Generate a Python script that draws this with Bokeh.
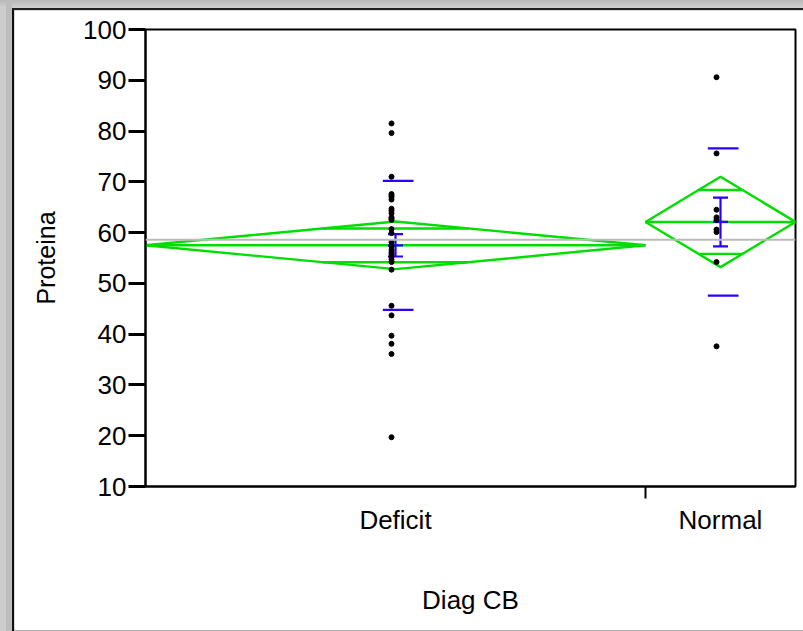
import math
from bokeh.plotting import figure
from bokeh.layouts import column
from bokeh.models import Range1d, FixedTicker, Span
from bokeh.embed import file_html
from bokeh.resources import INLINE

# ---------------- data ----------------
groups = ["Deficit", "Normal"]
deficit_values = [81.5, 79.6, 71.0, 67.6, 67.3, 67.0, 66.5, 64.7, 64.3, 63.8,
                  63.0, 62.8, 62.5, 60.7, 59.9, 58.1, 57.3, 56.6, 56.1, 55.7,
                  55.2, 54.7, 54.2, 52.7, 45.6, 43.7, 39.7, 38.1, 36.1, 19.7]
normal_values = [90.6, 75.6, 64.5, 63.0, 62.5, 60.6, 60.1, 54.2, 37.6]
group_values = [deficit_values, normal_values]

group_means = [57.5, 62.1]
group_ci95 = [4.7, 8.9]
group_sd = [12.7, 14.5]
group_se = [2.2, 4.8]
grand_mean = 58.6

y_ticks = [10, 20, 30, 40, 50, 60, 70, 80, 90, 100]

GREEN = "#00DD00"
BLUE = "#2A00FF"
FONT = "Liberation Sans"

# ---------------- geometry from counts ----------------
widths = [len(v) for v in group_values]
starts, ends, centers = [], [], []
acc = 0
for w in widths:
    starts.append(acc)
    ends.append(acc + w)
    centers.append(acc + w / 2)
    acc += w
total = acc

p = figure(width=789, height=620, output_backend="svg", toolbar_location=None,
           x_range=Range1d(0, total), y_range=Range1d(10, 100),
           min_border_left=131, min_border_right=8, min_border_top=19,
           min_border_bottom=144)
p.margin = (10, 0, 1, 14)
p.background_fill_color = "white"
p.border_fill_color = "white"
p.outline_line_color = "black"
p.outline_line_width = 2
p.xgrid.visible = False
p.ygrid.visible = False

# grand mean line
p.add_layout(Span(location=grand_mean, dimension="width", line_color="#BBBBBB", line_width=2))

# means diamonds
dx, dy = [], []
seg_x0, seg_x1, seg_y = [], [], []
k = 1 - 1 / math.sqrt(2)
for i in range(len(groups)):
    m, c = group_means[i], group_ci95[i]
    x0, x1, xc = starts[i], ends[i], centers[i]
    dx.append([x0, xc, x1, xc])
    dy.append([m, m + c, m, m - c])
    seg_x0.append(x0); seg_x1.append(x1); seg_y.append(m)
    half = k * (x1 - x0) / 2
    for s in (1, -1):
        seg_x0.append(xc - half); seg_x1.append(xc + half); seg_y.append(m + s * c / math.sqrt(2))
p.patches(dx, dy, fill_color=None, line_color=GREEN, line_width=2.4)
p.segment(seg_x0, seg_y, seg_x1, seg_y, line_color=GREEN, line_width=2.4)

# std dev lines and mean error bars
bx0, bx1, by0, by1 = [], [], [], []
for i in range(len(groups)):
    m, sd, se, xc = group_means[i], group_sd[i], group_se[i], centers[i]
    for s in (1, -1):
        bx0.append(xc + 0.16 - 0.92); bx1.append(xc + 0.16 + 0.92)
        by0.append(m + s * sd); by1.append(m + s * sd)
    for yv in (m + se, m, m - se):
        bx0.append(xc - 0.45); bx1.append(xc + 0.45)
        by0.append(yv); by1.append(yv)
    bx0.append(xc); bx1.append(xc); by0.append(m - se); by1.append(m + se)
p.segment(bx0, by0, bx1, by1, line_color=BLUE, line_width=2.2)

# points
px, py = [], []
for i, vals in enumerate(group_values):
    for v in vals:
        px.append(centers[i] - 0.24)
        py.append(v)
p.scatter(px, py, size=5, marker="circle", fill_color="black", line_color="black")

# axes
xa = p.xaxis[0]
xa.ticker = FixedTicker(ticks=centers, minor_ticks=[ends[0]])
xa.major_label_overrides = {c: g for c, g in zip(centers, groups)}
xa.major_tick_line_color = None
xa.major_tick_out = 0
xa.major_tick_in = 0
xa.minor_tick_out = 12
xa.minor_tick_in = 0
xa.minor_tick_line_width = 2
xa.minor_tick_line_color = "black"
xa.axis_line_width = 2
xa.major_label_standoff = 6
xa.major_label_text_font = FONT
xa.major_label_text_font_size = "26px"
xa.major_label_text_color = "black"
xa.axis_label = "Diag CB"
xa.axis_label_text_font = FONT
xa.axis_label_text_font_size = "26px"
xa.axis_label_text_font_style = "normal"
xa.axis_label_text_color = "black"
xa.axis_label_standoff = 47

ya = p.yaxis[0]
ya.ticker = FixedTicker(ticks=y_ticks)
ya.major_tick_out = 17
ya.major_tick_in = 0
ya.major_tick_line_width = 3
ya.minor_tick_line_color = None
ya.axis_line_width = 2
ya.major_label_standoff = 2
ya.major_label_text_font = FONT
ya.major_label_text_font_size = "26px"
ya.major_label_text_color = "black"
ya.axis_label = "Proteina"
ya.axis_label_text_font = FONT
ya.axis_label_text_font_size = "25px"
ya.axis_label_text_font_style = "normal"
ya.axis_label_text_color = "black"
ya.axis_label_standoff = 20

# window-like frame around the report (page styling)
frame_bg = ("linear-gradient(#202020,#202020) 12px 8px / 791px 2px no-repeat, "
            "linear-gradient(#101010,#101010) 12px 8px / 2px 623px no-repeat, "
            "linear-gradient(#AAAAAA,#AAAAAA) 14px 629px / 789px 2px no-repeat, "
            "linear-gradient(#BDBDBD,#BDBDBD) 6px 0px / 6px 631px no-repeat, "
            "linear-gradient(#B8B8B8,#D0D0D0) 0px 0px / 803px 8px no-repeat, "
            "#CDCDCD")
layout = column(p, styles={"background": frame_bg})

open("out.html", "w").write(file_html(layout, INLINE))
